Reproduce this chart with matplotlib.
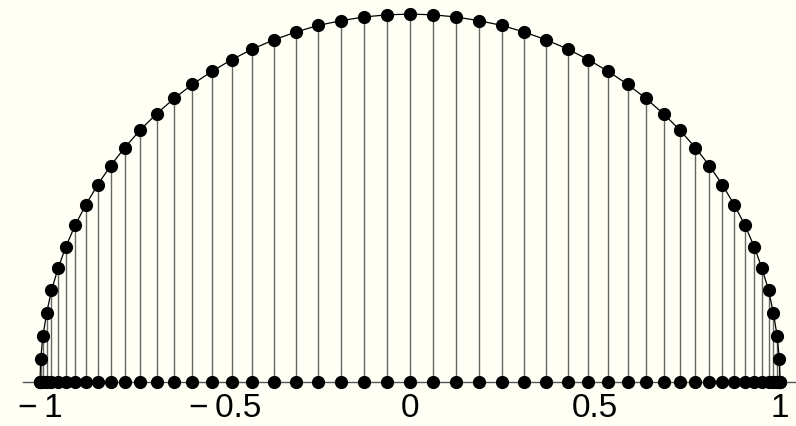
"""
Chebyshev points on the upper unit semicircle, projected onto [-1, 1]
"""

import matplotlib
matplotlib.use('Agg')
import matplotlib.pyplot as plt

# points (left to right)
x_vals = [-1.000, -0.998, -0.992, -0.982, -0.969, -0.951, -0.930, -0.905, -0.876,
          -0.844, -0.809, -0.771, -0.729, -0.685, -0.637, -0.588, -0.536, -0.482,
          -0.426, -0.368, -0.309, -0.249, -0.187, -0.125, -0.063, 0.000,
          0.063, 0.125, 0.187, 0.249, 0.309, 0.368, 0.426, 0.482, 0.536,
          0.588, 0.637, 0.685, 0.729, 0.771, 0.809, 0.844, 0.876, 0.905,
          0.930, 0.951, 0.969, 0.982, 0.992, 0.998, 1.000]
y_vals = [0.000, 0.063, 0.125, 0.187, 0.249, 0.309, 0.368, 0.426, 0.482,
          0.536, 0.588, 0.637, 0.685, 0.729, 0.771, 0.809, 0.844, 0.876,
          0.905, 0.930, 0.951, 0.969, 0.982, 0.992, 0.998, 1.000,
          0.998, 0.992, 0.982, 0.969, 0.951, 0.930, 0.905, 0.876, 0.844,
          0.809, 0.771, 0.729, 0.685, 0.637, 0.588, 0.536, 0.482, 0.426,
          0.368, 0.309, 0.249, 0.187, 0.125, 0.063, 0.000]
tick_vals = [-1, -0.5, 0, 0.5, 1]
tick_labels = ['\u2212\u20091', '\u2212\u20090.5', '0', '0.5', '1']

bg = '#fffff5'

fig = plt.figure(figsize=(7.96, 4.27), dpi=100, facecolor=bg)
ax = fig.add_axes([0, 0, 1, 1], facecolor=bg)

# stems from the axis up to each point
ax.vlines(x_vals, 0, y_vals, color='#666666', linewidth=1.0, zorder=1)

# semicircle through the points
ax.plot(x_vals, y_vals, color='black', linewidth=0.9, zorder=2)

# points on the curve and their projections on the axis
ax.plot(x_vals, y_vals, 'o', color='black', markersize=8.5, zorder=3)
ax.plot(x_vals, [0] * len(x_vals), 'o', color='black', markersize=8.5, zorder=3)

ax.set_xlim(-1.108, 1.043)
ax.set_ylim(-0.1196, 1.041)

for side in ['top', 'right', 'left']:
    ax.spines[side].set_visible(False)
ax.spines['bottom'].set_position(('data', 0))
ax.spines['bottom'].set_bounds(-1.046, 1.05)
ax.spines['bottom'].set_color('#555555')
ax.spines['bottom'].set_linewidth(1.0)
ax.spines['bottom'].set_zorder(0)

ax.set_yticks([])
ax.set_xticks(tick_vals)
ax.set_xticklabels(tick_labels, fontsize=24, family=['Liberation Sans', 'DejaVu Sans'])
ax.tick_params(axis='x', length=0, pad=7)

plt.savefig('out.png', dpi=100, facecolor=bg)
plt.close()
